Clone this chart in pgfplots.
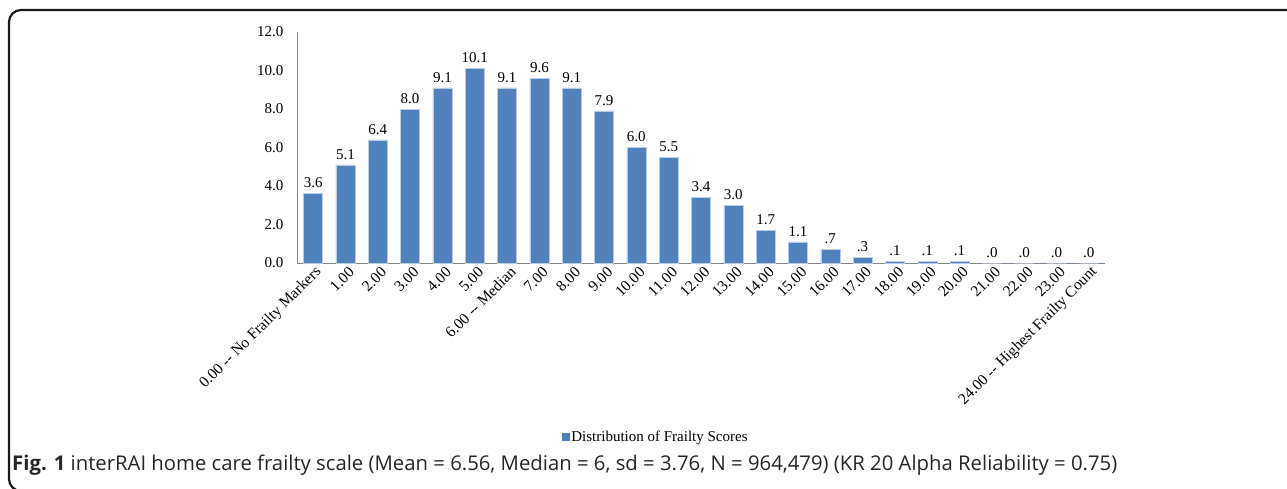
\documentclass[border=0pt]{standalone}
\usepackage{pgfplots}
\pgfplotsset{compat=1.18}
\usepackage{pgfplotstable}
\usepackage{fontspec}
\setmainfont{Liberation Serif}
\newfontfamily\capfont{Open Sans}

\definecolor{barblue}{HTML}{4F81BD}
\definecolor{baredge}{HTML}{B9CDE5}
\definecolor{axisgray}{HTML}{868686}

% frailty score, percent of clients, printed label
\pgfplotstableread{
x  y     lab
0  3.6   3.6
1  5.1   5.1
2  6.4   6.4
3  8.0   8.0
4  9.1   9.1
5  10.1  10.1
6  9.1   9.1
7  9.6   9.6
8  9.1   9.1
9  7.9   7.9
10 6.0   6.0
11 5.5   5.5
12 3.4   3.4
13 3.0   3.0
14 1.7   1.7
15 1.1   1.1
16 0.7   .7
17 0.3   .3
18 0.1   .1
19 0.1   .1
20 0.1   .1
21 0.0   .0
22 0.0   .0
23 0.0   .0
24 0.0   .0
}\frailty

\begin{document}
\begin{tikzpicture}
\useasboundingbox (0pt,0pt) rectangle (1287pt,488pt);
% rounded frame around the figure
\begin{scope}
\clip (0pt,0pt) rectangle (1287pt,488pt);
\draw[line width=2.2pt, black!90, rounded corners=12pt] (1300pt,478pt) -- (9pt,478pt) -- (9pt,-3pt) -- (1300pt,-3pt);
\end{scope}

\begin{axis}[
  at={(297pt,225pt)}, anchor=south west,
  scale only axis, width=808pt, height=231pt,
  xmin=-0.5, xmax=24.5, ymin=0, ymax=12,
  axis x line=bottom, axis y line=left,
  axis line style={axisgray, line width=0.9pt, -},
  ytick={0,2,...,12},
  yticklabel style={/pgf/number format/fixed, /pgf/number format/fixed zerofill,
    /pgf/number format/precision=1, font=\fontsize{15}{17}\selectfont, xshift=-10pt},
  /pgf/number format/assume math mode=true,
  major tick length=0pt,
  xtick=data,
  xticklabels={{0.00 -{}- No Frailty Markers},1.00,2.00,3.00,4.00,5.00,{6.00 -{}- Median},7.00,8.00,9.00,10.00,11.00,12.00,13.00,14.00,15.00,16.00,17.00,18.00,19.00,20.00,21.00,22.00,23.00,{24.00 -{}- Highest Frailty Count}},
  xticklabel style={rotate=45, anchor=east, font=\fontsize{15.5}{17}\selectfont, yshift=-9pt, xshift=3pt},
  ybar, bar width=19pt,
  nodes near coords,
  point meta=explicit symbolic,
  every node near coord/.append style={font=\fontsize{15}{17}\selectfont, yshift=2pt},
  legend style={at={(0.444,-0.753)}, anchor=center, draw=none, fill=none,
    font=\fontsize{15}{17}\selectfont, inner sep=0pt},
  legend image code/.code={\fill[barblue] (0pt,-3.5pt) rectangle (7pt,3.5pt);},
  clip=false,
]
\addplot[fill=barblue, draw=baredge, line width=0.5pt] table[x=x, y=y, meta=lab] {\frailty};
\addlegendentry{Distribution of Frailty Scores}
\end{axis}

\node[anchor=base west, inner sep=0pt, font=\capfont\fontsize{20.3}{23}\selectfont, text=black!85] at (12pt,18pt)
  {\textbf{Fig. 1} interRAI home care frailty scale (Mean = 6.56, Median = 6, sd = 3.76, N = 964,479) (KR 20 Alpha Reliability = 0.75)};
\end{tikzpicture}
\end{document}
